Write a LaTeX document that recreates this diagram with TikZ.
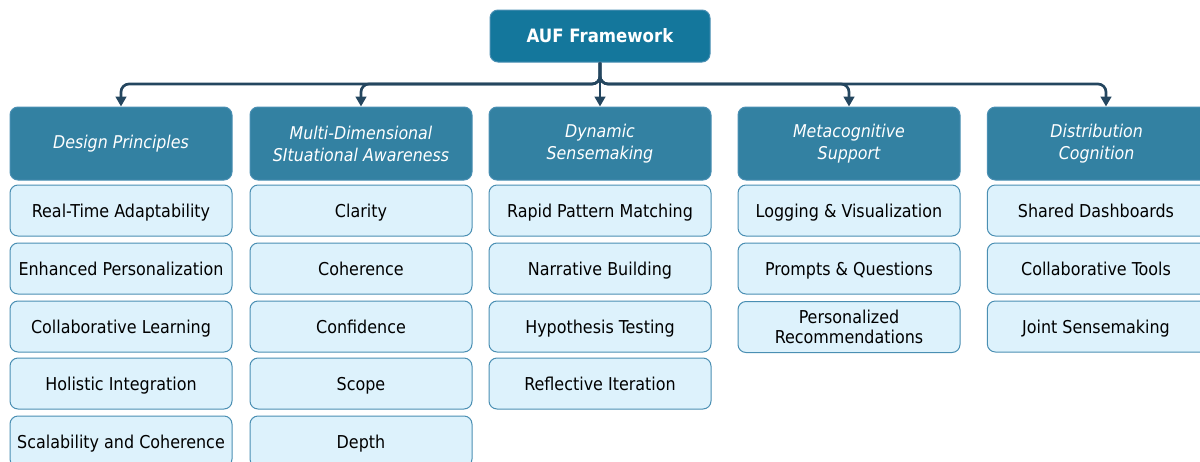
\documentclass[tikz,border=0pt]{standalone}
\usepackage{fontspec}
\setmainfont{DejaVu Sans Condensed}
\usetikzlibrary{arrows.meta}
\definecolor{rootfill}{HTML}{14779C}
\definecolor{headfill}{HTML}{3381A2}
\definecolor{itemfill}{HTML}{DDF2FC}
\definecolor{itemline}{HTML}{4A8FB3}
\definecolor{conncol}{HTML}{24465F}
\tikzset{
  rootbox/.style={draw=itemline, fill=rootfill, rounded corners=6pt, line width=0.75pt,
    minimum width=165pt, minimum height=39pt, text=white, font=\bfseries\fontsize{13.8}{16}\selectfont},
  headbox/.style={draw=itemline, fill=headfill, rounded corners=6pt, line width=0.75pt,
    minimum width=166.5pt, minimum height=54.75pt, text=white, align=center,
    font=\itshape\fontsize{13.2}{16.5}\selectfont},
  itemshape/.style={draw=itemline, fill=itemfill, rounded corners=6pt, line width=0.75pt,
    minimum width=166.5pt, minimum height=38.25pt, text=black, align=center,
    font=\fontsize{13.3}{15.5}\selectfont},
  itembox/.style={itemshape, text height=12pt, text depth=2pt},
  conn/.style={draw=conncol, line width=2pt, rounded corners=6pt,
    -{Triangle[length=7.5pt,width=8pt]}},
}
\begin{document}
\begin{tikzpicture}[x=0.75pt,y=-0.75pt]
\useasboundingbox (0,0) rectangle (1200,461);
\clip (0,0) rectangle (1200,461);
\node[rootbox] (root) at (600,36) {AUF Framework};
% headers
\node[headbox] (h1) at (121,143.5) {\raisebox{-2pt}{Design Principles}};
\node[headbox] (h2) at (361,143.5) {Multi-Dimensional\\SItuational Awareness};
\node[headbox] (h3) at (600,143.5) {Dynamic\\Sensemaking};
\node[headbox] (h4) at (849,143.5) {Metacognitive\\Support};
\node[headbox, minimum width=178pt] (h5) at (1106,143.5) {\hspace*{-14pt}Distribution\\\hspace*{-14pt}Cognition};
% column 1
\node[itembox] (a1) at (121,210.5) {Real-Time Adaptability};
\node[itembox] (a2) at (121,268.5) {Enhanced Personalization};
\node[itembox] (a3) at (121,326.5) {Collaborative Learning};
\node[itembox] (a4) at (121,383.5) {Holistic Integration};
\node[itembox] (a5) at (121,441.5) {Scalability and Coherence};
% column 2
\node[itembox] (b1) at (361,210.5) {Clarity};
\node[itembox] (b2) at (361,268.5) {Coherence};
\node[itembox] (b3) at (361,326.5) {Confidence};
\node[itembox] (b4) at (361,383.5) {Scope};
\node[itembox] (b5) at (361,441.5) {Depth};
% column 3
\node[itembox] (c1) at (600,210.5) {Rapid Pattern Matching};
\node[itembox] (c2) at (600,268.5) {Narrative Building};
\node[itembox] (c3) at (600,326.5) {Hypothesis Testing};
\node[itembox] (c4) at (600,383.5) {Reflective Iteration};
% column 4
\node[itembox] (d1) at (849,210.5) {Logging \& Visualization};
\node[itembox] (d2) at (849,268.5) {Prompts \& Questions};
\node[itemshape] (d3) at (849,327) {Personalized\\Recommendations};
% column 5
\node[itembox, minimum width=178pt] (e1) at (1106,210.5) {\hspace*{-15pt}Shared Dashboards};
\node[itembox, minimum width=178pt] (e2) at (1106,268.5) {\hspace*{-15pt}Collaborative Tools};
\node[itembox, minimum width=178pt] (e3) at (1106,326.5) {\hspace*{-15pt}Joint Sensemaking};
% connectors
\coordinate (j) at (600,84);
\draw[conn] (root.south) -- (j) -| (h1.north);
\draw[conn] (root.south) -- (j) -| (h2.north);
\draw[conn] (root.south) -- (h3.north);
\draw[conn] (root.south) -- (j) -| (h4.north);
\draw[conn] (root.south) -- (j) -| (h5.north);
\end{tikzpicture}
\end{document}
